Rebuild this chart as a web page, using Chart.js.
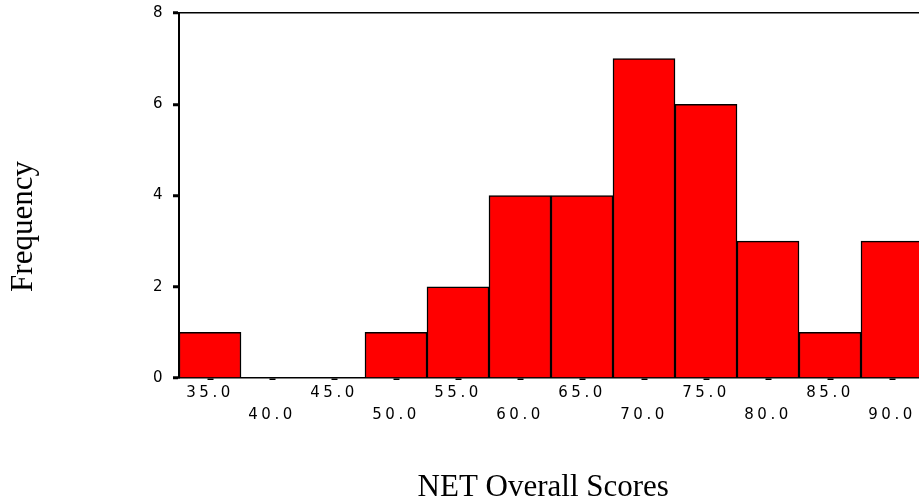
<!DOCTYPE html>
<html>
<head>
<meta charset="utf-8">
<script src="https://cdn.jsdelivr.net/npm/chart.js@4/dist/chart.umd.min.js"></script>
<style>
  html, body { margin: 0; padding: 0; background: #fff; overflow: hidden; }
  #histogram { display: block; }
</style>
</head>
<body>
<canvas id="histogram" width="923" height="503"></canvas>
<script>
// bin midpoints of NET overall scores and the count in each bin
var bins = ["35.0", "40.0", "45.0", "50.0", "55.0", "60.0", "65.0", "70.0", "75.0", "80.0", "85.0", "90.0"];
var counts = [1, 0, 0, 1, 2, 4, 4, 7, 6, 3, 1, 3];
var yTicks = [0, 2, 4, 6, 8];

var xTickFont = { family: "DejaVu Sans", size: 15, lineHeight: 1.47 };
var yTickFont = { family: "DejaVu Sans", size: 15, lineHeight: 0.8 };
var titleFont = { family: "Liberation Serif", size: 31, lineHeight: 1 };

// the tick labels in the picture are very wide, so spread the letters a bit
// (labels are drawn after the bars because ticks.z = 1, titles before)
var wideTicks = {
    id: "wideTicks",
    afterDatasetsDraw: function (chart) {
        chart.ctx.letterSpacing = "3.5px";
    },
    afterDraw: function (chart) {
        chart.ctx.letterSpacing = "0px";
    }
};

window.onload = function () {
    var ctx = document.getElementById("histogram");
    new Chart(ctx, {
        type: "bar",
        data: {
            labels: bins,
            datasets: [{
                data: counts,
                backgroundColor: "#ff0000",
                borderColor: "#000000",
                borderWidth: 1.5,
                categoryPercentage: 1,
                barPercentage: 1
            }]
        },
        options: {
            responsive: false,
            animation: false,
            devicePixelRatio: 1,
            layout: { padding: { top: 13, left: 0, right: 0, bottom: 0 } },
            plugins: {
                legend: { display: false },
                tooltip: { enabled: false }
            },
            scales: {
                x: {
                    grid: {
                        offset: false,
                        drawOnChartArea: false,
                        drawTicks: true,
                        tickLength: 2,
                        tickWidth: 6,
                        tickColor: "#000"
                    },
                    border: { display: true, color: "#000", width: 1.5 },
                    ticks: {
                        z: 1,
                        color: "#000",
                        font: xTickFont,
                        padding: 2,
                        autoSkip: false,
                        maxRotation: 0,
                        callback: function (value, index) {
                            var label = this.getLabelForValue(value);
                            return index % 2 === 1 ? ["", label] : label;
                        }
                    },
                    title: {
                        display: true,
                        text: "NET Overall Scores\u2002",
                        color: "#000",
                        font: titleFont,
                        padding: 0
                    },
                    afterFit: function (scale) {
                        scale.height = 125;
                    }
                },
                y: {
                    min: 0,
                    max: 8,
                    afterBuildTicks: function (scale) {
                        scale.ticks = yTicks.map(function (v) { return { value: v }; });
                    },
                    grid: {
                        color: function (c) {
                            return c.tick && c.tick.value === 8 ? "#000" : "rgba(0,0,0,0)";
                        },
                        lineWidth: 1.5,
                        drawTicks: true,
                        tickLength: 6,
                        tickWidth: 3,
                        tickColor: "#000"
                    },
                    border: { display: true, color: "#000", width: 2 },
                    ticks: {
                        z: 1,
                        color: "#000",
                        font: yTickFont,
                        padding: 7
                    },
                    title: {
                        display: true,
                        text: "Frequency\u2003\u2003",
                        color: "#000",
                        font: titleFont,
                        padding: { top: 8, bottom: 0 }
                    },
                    afterFit: function (scale) {
                        scale.width = 179;
                    }
                }
            }
        },
        plugins: [wideTicks]
    });
};
</script>
</body>
</html>
